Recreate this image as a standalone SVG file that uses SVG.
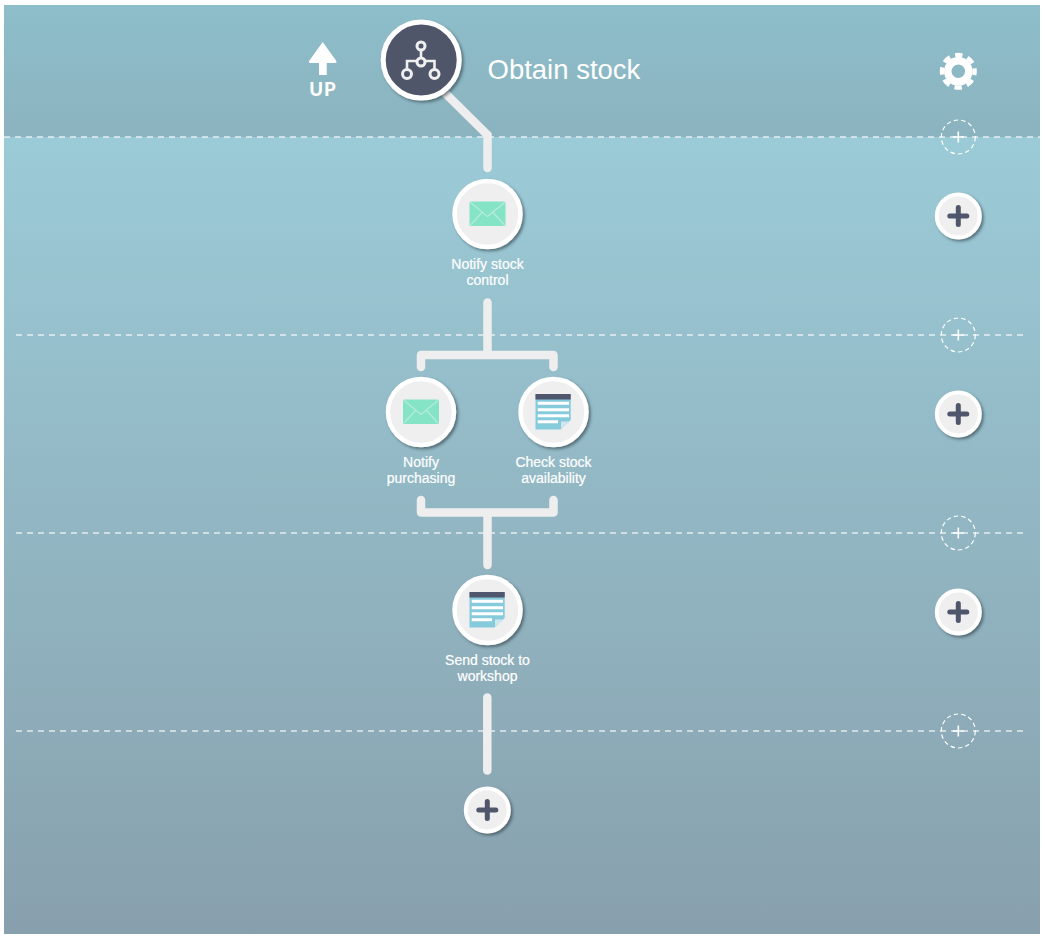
<svg xmlns="http://www.w3.org/2000/svg" width="1045" height="938" viewBox="0 0 1045 938">
<style>
.sep{stroke:#fff;stroke-opacity:.75;stroke-width:1.5;stroke-dasharray:6 5;fill:none}
.conn{stroke:#eeeeee;stroke-width:8.500;fill:none;stroke-linecap:round;stroke-linejoin:round}
.ring{fill:#efefef;stroke:#fff;stroke-width:4.500;filter:url(#sh)}
.ring2{fill:#efefef;stroke:#fff;stroke-width:4;filter:url(#sh)}
.lbl{font-family:"Liberation Sans",Arial,sans-serif;font-size:14px;fill:#fff;text-anchor:middle;font-weight:400;stroke:#fff;stroke-width:.2px}
.plus{stroke:#50566b;stroke-width:5;stroke-linecap:round;fill:none}
.add{fill:none;stroke:#fff;stroke-width:1.2;stroke-dasharray:4.500 3}
.addp{stroke:#fff;stroke-width:1.6;fill:none}
</style>
<defs>
<linearGradient id="bg" x1="0" y1="0" x2="0" y2="1"><stop offset="0" stop-color="#9bcbd7"/><stop offset="1" stop-color="#88a0ad"/></linearGradient>
<linearGradient id="hd" x1="0" y1="0" x2="0" y2="1"><stop offset="0" stop-color="#8dbeca"/><stop offset="1" stop-color="#8bb3bf"/></linearGradient>
<filter id="sh" x="-30%" y="-30%" width="170%" height="170%"><feDropShadow dx="2" dy="2" stdDeviation="1.6" flood-color="#2a3a44" flood-opacity=".6"/></filter>
<g id="mail">
<rect x="-18" y="-12.500" width="36" height="24.500" rx="1.500" fill="#85e3c6"/>
<path d="M-17-11.500 0 2.500 17-11.500M-17 11-5-2M17 11 5-2" fill="none" stroke="#b5ecdb" stroke-width="1.300"/>
</g>
<g id="doc">
<path d="M-18-18H17.200V8L7 17.500H-18Z" fill="#86cbdc"/>
<rect x="-18" y="-18" width="35.200" height="5.500" fill="#50566b"/>
<path d="M-15.800-8.700H15.500M-15.800-2.300H15.500M-15.800 3.800H15.500M-15.800 9.700H4.500" stroke="#fff" stroke-width="3" fill="none"/>
<path d="M7.500 17V9.500H16.500Z" fill="#cfe6ec"/>
</g>
</defs>
<rect width="1045" height="938" fill="#fff"/>
<rect x="4" y="137" width="1036" height="797" fill="url(#bg)"/>
<rect x="4" y="5" width="1036" height="132" fill="url(#hd)"/>
<g id="separators">
<path class="sep" d="M4 137H1040"/>
<path class="sep" d="M16 335H1026"/>
<path class="sep" d="M16 533H1026"/>
<path class="sep" d="M16 731H1026"/>
</g>
<g id="connectors">
<path class="conn" style="stroke-linejoin:miter" d="M445 93 487.500 135V168"/>
<path class="conn" d="M487.500 302.500V355M421 367V355H553.500V367"/>
<path class="conn" d="M421 500V512.500H553.500V500M487.500 512.500V565"/>
<path class="conn" d="M487.300 697.500V770.500"/>
</g>
<g id="up" fill="#fff">
<path d="M322.700 42 336 60.500Q337.300 63 335 63H326.700V75H319V63H310.500Q308 63 309.400 60.500Z"/>
<text x="323" y="95.500" style="font-family:Lato,'Liberation Sans',sans-serif;font-size:18.500px;font-weight:900;letter-spacing:1px" text-anchor="middle">UP</text>
</g>
<g id="root">
<circle cx="421.200" cy="60" r="38" fill="#50566b" stroke="#fff" stroke-width="5" filter="url(#sh)"/>
<g fill="none" stroke="#efefef" stroke-width="3">
<circle cx="421" cy="46" r="4"/><circle cx="421" cy="62" r="4"/><circle cx="407" cy="74" r="4.500"/><circle cx="434.500" cy="74" r="4.500"/>
<path d="M421 50V58M417 61H407V69.500M425 61H434.500V69.500" stroke-width="2.600"/>
</g>
<text x="487.500" y="79" style="font-family:'Liberation Sans',Arial,sans-serif;font-size:27.500px" fill="#fff">Obtain stock</text>
</g>
<g id="settings" fill="none" stroke="#fff">
<circle cx="958.300" cy="71.300" r="10.500" stroke-width="7.500"/>
<circle cx="958.300" cy="71.300" r="16.300" stroke-width="4.400" stroke-dasharray="7.400 5.400" stroke-dashoffset="3.700"/>
</g>
<g id="n1">
<circle class="ring" cx="487.500" cy="214" r="33"/>
<use href="#mail" x="487.500" y="214"/>
<text class="lbl" x="487.500" y="269">Notify stock</text>
<text class="lbl" x="487.500" y="285">control</text>
</g>
<g id="n2">
<circle class="ring" cx="421" cy="412" r="33"/>
<use href="#mail" x="421" y="412"/>
<text class="lbl" x="421" y="467">Notify</text>
<text class="lbl" x="421" y="483">purchasing</text>
</g>
<g id="n3">
<circle class="ring" cx="553.500" cy="412" r="33"/>
<use href="#doc" x="553.500" y="412"/>
<text class="lbl" x="553.500" y="467">Check stock</text>
<text class="lbl" x="553.500" y="483">availability</text>
</g>
<g id="n4">
<circle class="ring" cx="487.500" cy="610" r="33"/>
<use href="#doc" x="487.500" y="610"/>
<text class="lbl" x="487.500" y="665">Send stock to</text>
<text class="lbl" x="487.500" y="681">workshop</text>
</g>
<g id="add-step">
<circle class="ring2" cx="487.300" cy="810" r="21.500"/>
<path class="plus" d="M487.300 801.500V818.500M478.800 810H495.800"/>
</g>
<g id="add-row-1"><circle class="ring2" cx="958.300" cy="216" r="21.500"/><path class="plus" d="M958.300 207.500V224.500M949.800 216H966.800"/></g>
<g id="add-row-2"><circle class="ring2" cx="958.300" cy="414" r="21.500"/><path class="plus" d="M958.300 405.500V422.500M949.800 414H966.800"/></g>
<g id="add-row-3"><circle class="ring2" cx="958.300" cy="612" r="21.500"/><path class="plus" d="M958.300 603.500V620.500M949.800 612H966.800"/></g>
<g id="ins-1"><circle class="add" cx="958.300" cy="137" r="17"/><path class="addp" d="M958.300 131.500V142.500M952.800 137H963.800"/></g>
<g id="ins-2"><circle class="add" cx="958.300" cy="335" r="17"/><path class="addp" d="M958.300 329.500V340.500M952.800 335H963.800"/></g>
<g id="ins-3"><circle class="add" cx="958.300" cy="533" r="17"/><path class="addp" d="M958.300 527.500V538.500M952.800 533H963.800"/></g>
<g id="ins-4"><circle class="add" cx="958.300" cy="731" r="17"/><path class="addp" d="M958.300 725.500V736.500M952.800 731H963.800"/></g>
</svg>
